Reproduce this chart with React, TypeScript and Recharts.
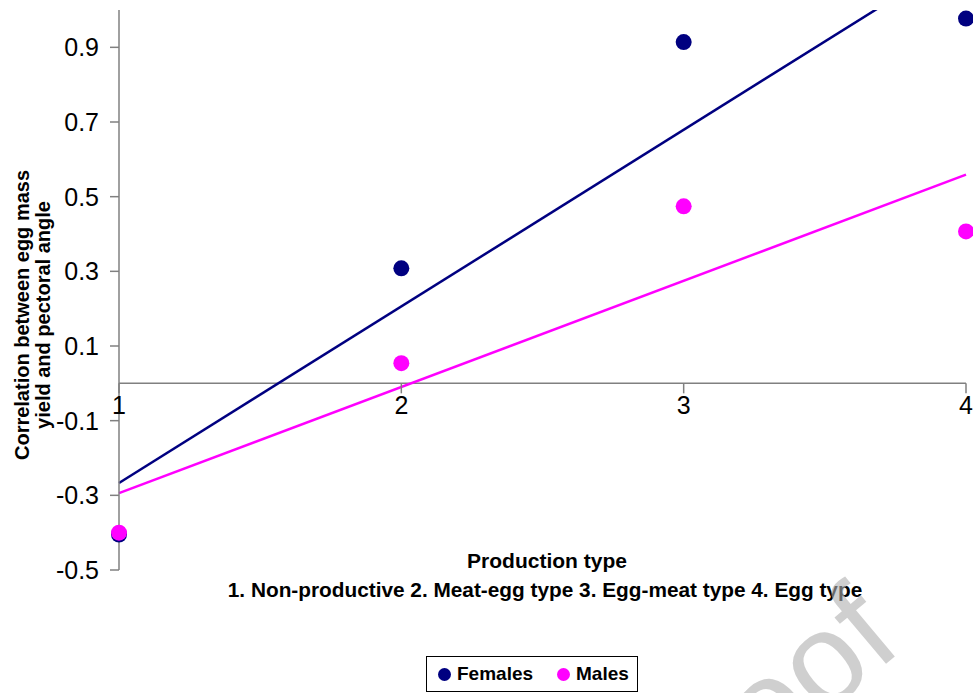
import {
  ComposedChart,
  Scatter,
  Line,
  XAxis,
  YAxis,
  ReferenceLine,
  ReferenceDot,
} from "recharts";

// production type 1..4
const productionTypes = [1, 2, 3, 4];
const femalesCorr = [-0.405, 0.308, 0.914, 0.977];
const malesCorr = [-0.4, 0.054, 0.474, 0.407];

// linear trend lines, read at both ends
const trendX = [1, 4];
const femalesTrend = [-0.267, 1.152];
const malesTrend = [-0.294, 0.559];

const yTicks = [-0.5, -0.3, -0.1, 0.1, 0.3, 0.5, 0.7, 0.9];

const NAVY = "#000080";
const MAGENTA = "#FF00FF";
const AXIS = "#808080";
const FONT = '"Liberation Sans", Arial, sans-serif';

const femalesPts = productionTypes.map((x, i) => ({ x, y: femalesCorr[i] }));
const malesPts = productionTypes.map((x, i) => ({ x, y: malesCorr[i] }));
const femalesLine = trendX.map((x, i) => ({ x, y: femalesTrend[i] }));
const malesLine = trendX.map((x, i) => ({ x, y: malesTrend[i] }));

const dot = (color: string) => (p: any) =>
  <circle cx={p.cx} cy={p.cy} r={8} fill={color} />;

// x axis sits on y = 0, so its ticks are drawn at the zero line
const xTick = (v: number) => (p: any) => (
  <g>
    <line x1={p.cx} y1={p.cy} x2={p.cx} y2={p.cy + 10} stroke={AXIS} strokeWidth={1.5} />
    <text x={p.cx} y={p.cy + 31} textAnchor="middle" fontSize={25} fontFamily={FONT} fill="#000">
      {v}
    </text>
  </g>
);

export default function App() {
  return (
    <div style={{ position: "absolute", left: 0, top: 0, width: 973, height: 693, background: "#fff", fontFamily: FONT }}>
      <ComposedChart width={973} height={693} margin={{ top: 10, right: 7, bottom: 123, left: 0 }}>
        <XAxis type="number" dataKey="x" domain={[1, 4]} ticks={productionTypes} hide />
        <YAxis
          yAxisId="left"
          type="number"
          domain={[-0.5, 1]}
          ticks={yTicks}
          width={119}
          tickSize={9}
          tickMargin={11}
          tickFormatter={(v) => Number(v).toFixed(1)}
          tick={{ fill: "#000", fontSize: 25, fontFamily: FONT }}
          axisLine={{ stroke: AXIS, strokeWidth: 1.5 }}
          tickLine={{ stroke: AXIS, strokeWidth: 1.5 }}
        />
        <YAxis yAxisId="trend" type="number" domain={[-0.5, 1]} allowDataOverflow hide />
        <ReferenceLine yAxisId="left" y={0} stroke={AXIS} strokeWidth={1.5} />
        {productionTypes.map((v) => (
          <ReferenceDot key={v} yAxisId="left" x={v} y={0} shape={xTick(v)} />
        ))}
        <Line
          yAxisId="trend"
          data={femalesLine}
          dataKey="y"
          stroke={NAVY}
          strokeWidth={2.5}
          dot={false}
          isAnimationActive={false}
        />
        <Line
          yAxisId="trend"
          data={malesLine}
          dataKey="y"
          stroke={MAGENTA}
          strokeWidth={2.5}
          dot={false}
          isAnimationActive={false}
        />
        <Scatter yAxisId="left" data={femalesPts} dataKey="y" shape={dot(NAVY)} isAnimationActive={false} />
        <Scatter yAxisId="left" data={malesPts} dataKey="y" shape={dot(MAGENTA)} isAnimationActive={false} />
      </ComposedChart>

      <svg width={973} height={693} style={{ position: "absolute", left: 0, top: 0, pointerEvents: "none" }}>
        <g transform="translate(33, 315) rotate(-90)" fontFamily={FONT} fontWeight="bold" fontSize={20} textAnchor="middle">
          <text x={0} y={-4}>Correlation between egg mass</text>
          <text x={0} y={17}>yield and pectoral angle</text>
        </g>
        <text x={547} y={568} textAnchor="middle" fontFamily={FONT} fontWeight="bold" fontSize={21}>
          Production type
        </text>
        <text x={545} y={597} textAnchor="middle" fontFamily={FONT} fontWeight="bold" fontSize={20.8}>
          1. Non-productive 2. Meat-egg type 3. Egg-meat type 4. Egg type
        </text>
        <g transform="translate(905, 648) rotate(-40)">
          <text x={0} y={0} textAnchor="end" fontFamily={FONT} fontSize={130} fill="#b0b0b0" opacity={0.6}>
            Proof
          </text>
        </g>
      </svg>

      <div
        style={{
          position: "absolute",
          left: 426,
          top: 656,
          width: 210,
          height: 34,
          border: "1px solid #000",
          display: "flex",
          alignItems: "center",
          fontWeight: "bold",
          fontSize: 19,
          boxSizing: "content-box",
        }}
      >
        <span style={{ width: 13, height: 13, borderRadius: 7, background: NAVY, marginLeft: 11, marginRight: 6 }} />
        <span>Females</span>
        <span style={{ width: 13, height: 13, borderRadius: 7, background: MAGENTA, marginLeft: 24, marginRight: 6 }} />
        <span>Males</span>
      </div>
    </div>
  );
}
